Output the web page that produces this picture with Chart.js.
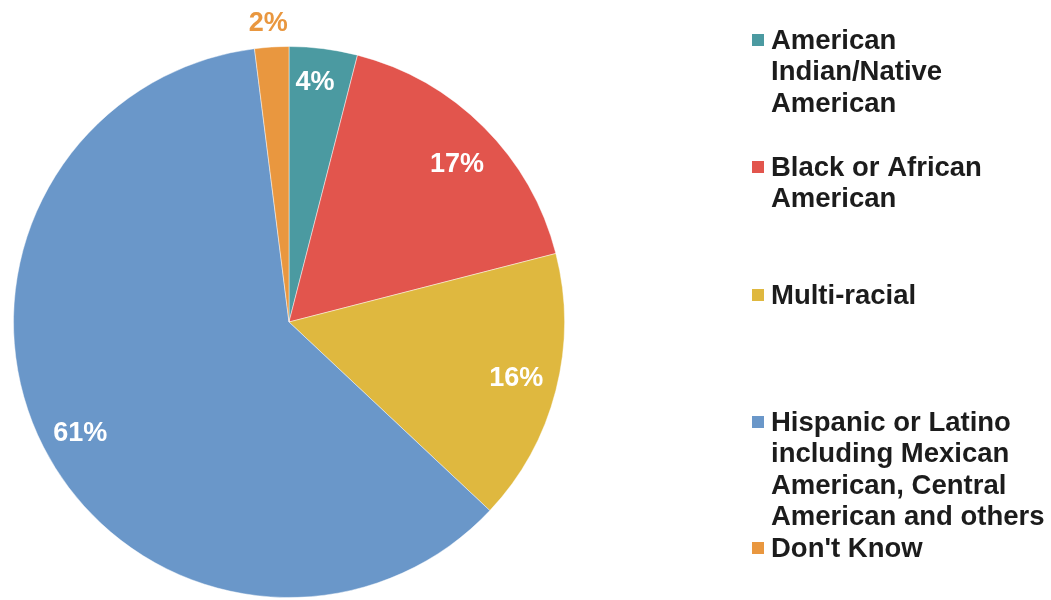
<!DOCTYPE html>
<html>
<head>
<meta charset="utf-8">
<script src="https://cdn.jsdelivr.net/npm/chart.js@4.4.1/dist/chart.umd.min.js"></script>
<style>
  html, body { margin: 0; padding: 0; background: #ffffff; }
  #wrap { position: relative; width: 1051px; height: 600px; }
</style>
</head>
<body>
<div id="wrap"><canvas id="pie"></canvas></div>
<script>
// Survey responses by race / ethnicity (percent of respondents)
const categories = [
  'American Indian/Native American',
  'Black or African American',
  'Multi-racial',
  'Hispanic or Latino including Mexican American, Central American and others',
  "Don't Know"
];
const shares = [4, 17, 16, 61, 2];

// Wrapped legend text, one entry per category
const legendLines = [
  ['American', 'Indian/Native', 'American'],
  ['Black or African', 'American'],
  ['Multi-racial'],
  ['Hispanic or Latino', 'including Mexican', 'American, Central', 'American and others'],
  ["Don't Know"]
];

const sliceColors = ['#4b9aa1', '#e2554d', '#dfb83f', '#6a97c9', '#e9973f'];

// Value label placement: distance from centre (fraction of radius) and angular nudge (degrees)
const labelRadius = [0.875, 0.835, 0.85, 0.86, 1.085];
const labelNudge = [-1, 1.9, -0.5, -1.2, -0.4];
const labelColors = ['#ffffff', '#ffffff', '#ffffff', '#ffffff', '#e9973f'];

// Legend layout
const legendTop = [40, 167, 295, 422, 548];
const legendLineHeight = 31.5;

const FONT = '"Liberation Sans", Arial, Helvetica, sans-serif';

const valueLabels = {
  id: 'valueLabels',
  afterDatasetsDraw(chart) {
    const ctx = chart.ctx;
    const meta = chart.getDatasetMeta(0);
    ctx.save();
    ctx.font = 'bold 27px ' + FONT;
    ctx.textAlign = 'center';
    ctx.textBaseline = 'middle';
    meta.data.forEach((arc, i) => {
      const p = arc.getProps(['x', 'y', 'startAngle', 'endAngle', 'outerRadius'], true);
      const mid = (p.startAngle + p.endAngle) / 2 + labelNudge[i] * Math.PI / 180;
      const r = p.outerRadius * labelRadius[i];
      ctx.fillStyle = labelColors[i];
      ctx.fillText(shares[i] + '%', p.x + Math.cos(mid) * r, p.y + Math.sin(mid) * r);
    });
    ctx.restore();
  }
};

const sideLegend = {
  id: 'sideLegend',
  afterDraw(chart) {
    const ctx = chart.ctx;
    ctx.save();
    ctx.font = 'bold 27.5px ' + FONT;
    ctx.textAlign = 'left';
    ctx.textBaseline = 'middle';
    categories.forEach((c, i) => {
      const y0 = legendTop[i];
      ctx.fillStyle = sliceColors[i];
      ctx.fillRect(752, y0 - 6, 12, 12);
      ctx.fillStyle = '#1c1c1c';
      legendLines[i].forEach((line, j) => {
        ctx.fillText(line, 771, y0 + j * legendLineHeight + 1);
      });
    });
    ctx.restore();
  }
};

new Chart(document.getElementById('pie'), {
  type: 'pie',
  data: {
    labels: categories,
    datasets: [{
      data: shares,
      backgroundColor: sliceColors,
      borderColor: 'rgba(255,255,255,0.45)',
      borderWidth: 1
    }]
  },
  options: {
    responsive: true,
    maintainAspectRatio: false,
    animation: false,
    layout: { padding: { left: 13, right: 486, top: 46, bottom: 2 } },
    plugins: {
      legend: { display: false },
      tooltip: { enabled: false }
    }
  },
  plugins: [valueLabels, sideLegend]
});
</script>
</body>
</html>
